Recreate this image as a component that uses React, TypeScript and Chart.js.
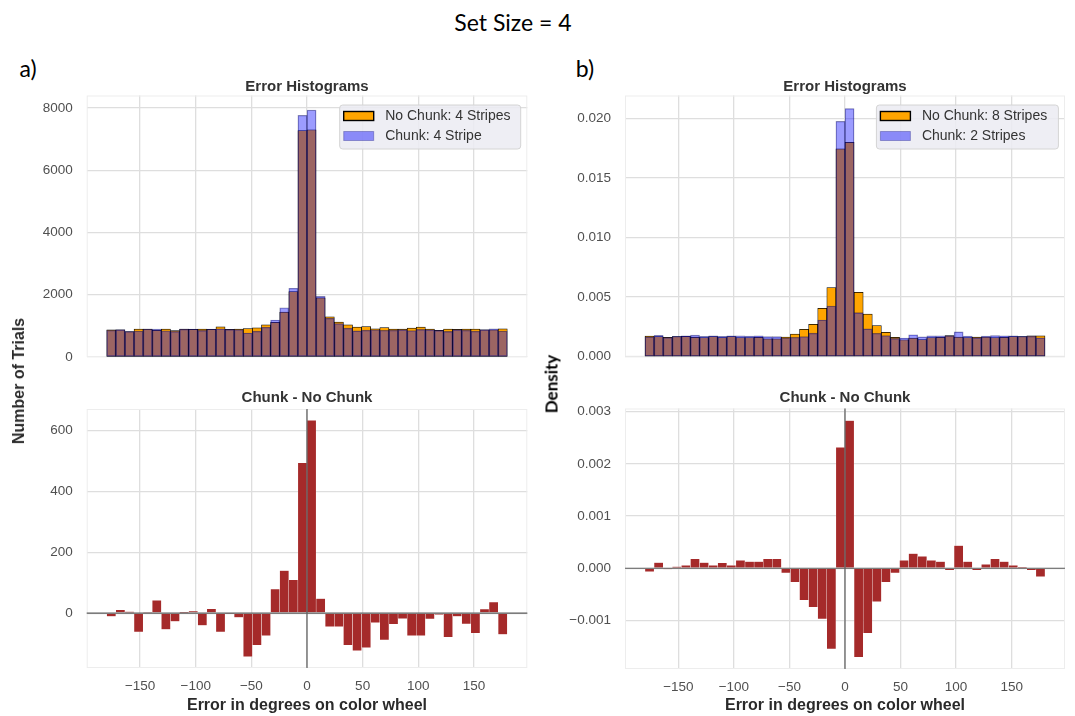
import React, { useEffect, useRef } from 'react';
import { Chart, registerables } from 'chart.js';

Chart.register(...registerables);
Chart.defaults.font.family = '"Liberation Sans", Arial, Helvetica, sans-serif';

// ---------------- data ----------------
const binCenters = [
  -175.91, -167.73, -159.55, -151.36, -143.18, -135.0, -126.82, -118.64, -110.45, -102.27, -94.09,
  -85.91, -77.73, -69.55, -61.36, -53.18, -45.0, -36.82, -28.64, -20.45, -12.27, -4.09,
  4.09, 12.27, 20.45, 28.64, 36.82, 45.0, 53.18, 61.36, 69.55, 77.73, 85.91,
  94.09, 102.27, 110.45, 118.64, 126.82, 135.0, 143.18, 151.36, 159.55, 167.73, 175.91,
];

const xTicks = [-150, -100, -50, 0, 50, 100, 150];

const noChunkA = [870, 870, 815, 895, 895, 855, 895, 850, 895, 890, 895, 885, 970, 890, 895, 915, 935, 1030, 1110, 1440, 2100, 7270, 7300, 1900, 1290, 1120, 1030, 960, 975, 905, 945, 900, 895, 925, 960, 895, 860, 900, 890, 895, 895, 870, 870, 905];
const chunkA = [859, 881, 820, 833, 897, 897, 842, 823, 896, 897, 855, 899, 908, 888, 881, 772, 830, 956, 1189, 1580, 2209, 7763, 7933, 1948, 1246, 1076, 925, 837, 862, 874, 857, 864, 877, 851, 886, 876, 855, 821, 879, 860, 829, 883, 906, 835];
const diffA = [-11, 11, 5, -62, 2, 42, -53, -27, 1, 7, -40, 14, -62, -2, -14, -143, -105, -74, 79, 140, 109, 493, 633, 48, -44, -44, -105, -123, -113, -31, -88, -36, -18, -74, -74, -19, -5, -79, -11, -35, -66, 13, 36, -70];

const noChunkB = [0.00172, 0.00168, 0.00162, 0.00168, 0.0017, 0.00163, 0.0016, 0.00168, 0.0016, 0.00168, 0.0016, 0.0016, 0.00163, 0.0015, 0.0015, 0.00165, 0.0019, 0.0023, 0.00272, 0.00405, 0.0058, 0.01742, 0.01798, 0.0054, 0.00358, 0.0026, 0.00204, 0.00162, 0.00142, 0.00156, 0.00143, 0.0016, 0.00162, 0.00178, 0.00165, 0.0016, 0.00164, 0.00165, 0.0016, 0.00163, 0.00168, 0.00168, 0.00176, 0.00175];
const chunkB = [0.00166, 0.00179, 0.00161, 0.00171, 0.00176, 0.00181, 0.00171, 0.00174, 0.0017, 0.00174, 0.00175, 0.00173, 0.00176, 0.00168, 0.00168, 0.00156, 0.00163, 0.00169, 0.00197, 0.00308, 0.00425, 0.01974, 0.02081, 0.00369, 0.00233, 0.00196, 0.00177, 0.00153, 0.00157, 0.00184, 0.00166, 0.00175, 0.00175, 0.00174, 0.00208, 0.00173, 0.0016, 0.00173, 0.00178, 0.00176, 0.00174, 0.00171, 0.00172, 0.00159];
const diffB = [-0.000064, 0.000109, -0.00001, 0.00003, 0.000057, 0.000179, 0.000109, 0.000057, 0.000102, 0.000057, 0.000153, 0.000128, 0.000128, 0.000179, 0.000179, -0.000089, -0.000268, -0.000613, -0.000747, -0.000971, -0.001545, 0.002318, 0.002829, -0.001705, -0.001245, -0.000639, -0.000268, -0.000089, 0.000153, 0.000281, 0.00023, 0.000153, 0.000128, -0.000038, 0.000434, 0.000128, -0.000038, 0.000077, 0.000179, 0.000128, 0.000057, 0.000026, -0.000038, -0.00016];

const yTicksAtop = [0, 2000, 4000, 6000, 8000];
const yTicksAbot = [0, 200, 400, 600];
const yTicksBtop = [0, 0.005, 0.01, 0.015, 0.02];
const yTicksBbot = [-0.001, 0, 0.001, 0.002, 0.003];

const legendA = ['No Chunk: 4 Stripes', 'Chunk: 4 Stripe'];
const legendB = ['No Chunk: 8 Stripes', 'Chunk: 2 Stripes'];

// ---------------- styling ----------------
const GRID = '#dedede';
const TICK = '#505050';
const ORANGE = '#ffa500';
const BLUE = 'rgba(0,0,255,0.39)';
const BROWN = '#a52a2a';

const minus = (s: string) => s.replace('-', '\u2212');
const fmtInt = (v: any) => minus(String(Math.round(Number(v))));
const fmt3 = (v: any) => minus(Number(v).toFixed(3));

const pts = (vals: number[]) => vals.map((y, i) => ({ x: binCenters[i], y }));

// ---------------- plugins ----------------
const framePlugin = {
  id: 'frame',
  beforeDatasetsDraw(chart: any) {
    const { ctx, chartArea: a } = chart;
    ctx.save();
    ctx.strokeStyle = '#ededed';
    ctx.lineWidth = 1;
    ctx.strokeRect(a.left + 0.5, a.top + 0.5, a.right - a.left - 1, a.bottom - a.top - 1);
    ctx.restore();
  },
};

const zeroPlugin = {
  id: 'zeroLines',
  afterDatasetsDraw(chart: any, _args: any, opts: any) {
    if (!opts || !opts.enabled) return;
    const { ctx, chartArea: a, scales } = chart;
    const x0 = scales.x.getPixelForValue(0);
    const y0 = scales.y.getPixelForValue(0);
    ctx.save();
    ctx.strokeStyle = '#5c5c5c';
    ctx.lineWidth = 1.2;
    ctx.beginPath();
    ctx.moveTo(a.left, y0);
    ctx.lineTo(a.right, y0);
    ctx.moveTo(x0, a.top);
    ctx.lineTo(x0, a.bottom);
    ctx.stroke();
    ctx.restore();
  },
};

const legendPlugin = {
  id: 'insideLegend',
  afterDraw(chart: any, _args: any, opts: any) {
    if (!opts || !opts.items) return;
    const { ctx, chartArea: a } = chart;
    const w = opts.width;
    const h = 44;
    const x = a.right - 6.6 - w;
    const y = a.top + 9.5;
    const r = 3;
    ctx.save();
    ctx.beginPath();
    ctx.moveTo(x + r, y);
    ctx.lineTo(x + w - r, y);
    ctx.quadraticCurveTo(x + w, y, x + w, y + r);
    ctx.lineTo(x + w, y + h - r);
    ctx.quadraticCurveTo(x + w, y + h, x + w - r, y + h);
    ctx.lineTo(x + r, y + h);
    ctx.quadraticCurveTo(x, y + h, x, y + h - r);
    ctx.lineTo(x, y + r);
    ctx.quadraticCurveTo(x, y, x + r, y);
    ctx.closePath();
    ctx.fillStyle = 'rgba(236,236,242,0.88)';
    ctx.fill();
    ctx.strokeStyle = '#d4d4d4';
    ctx.lineWidth = 1;
    ctx.stroke();
    opts.items.forEach((it: any, i: number) => {
      const cy = y + 11 + i * 20;
      ctx.fillStyle = it.fill;
      ctx.fillRect(x + 4, cy - 4.5, 30, 9);
      ctx.strokeStyle = it.stroke;
      ctx.lineWidth = it.lw;
      ctx.strokeRect(x + 4, cy - 4.5, 30, 9);
      ctx.fillStyle = '#333333';
      ctx.font = '14px "Liberation Sans", Arial, sans-serif';
      ctx.textBaseline = 'middle';
      ctx.textAlign = 'left';
      ctx.fillText(it.text, x + 45.5, cy + 0.5);
    });
    ctx.restore();
  },
};

// ---------------- panel ----------------
type PanelProps = {
  left: number;
  top: number;
  width: number;
  height: number;
  yWidth: number;
  padTop: number;
  padRight: number;
  padBottom: number;
  xHeight: number;
  showX: boolean;
  yMin: number;
  yMax: number;
  yTicks: number[];
  fmt: (v: any) => string;
  datasets: any[];
  legend?: any;
  zero?: boolean;
};

function Panel(p: PanelProps) {
  const ref = useRef<HTMLCanvasElement | null>(null);
  useEffect(() => {
    if (!ref.current) return;
    const chart = new Chart(ref.current, {
      type: 'bar',
      data: { datasets: p.datasets },
      options: {
        animation: false,
        responsive: false,
        maintainAspectRatio: false,
        devicePixelRatio: 1,
        layout: { padding: { left: 0, top: p.padTop, right: p.padRight, bottom: p.padBottom } },
        datasets: { bar: { grouped: false, barPercentage: 1, categoryPercentage: 1 } } as any,
        plugins: {
          legend: { display: false },
          tooltip: { enabled: false },
          title: { display: false },
          insideLegend: p.legend || {},
          zeroLines: { enabled: !!p.zero },
        } as any,
        scales: {
          x: {
            type: 'linear',
            min: -198,
            max: 198,
            offset: false,
            grid: { color: GRID, lineWidth: 1.3, drawTicks: false, offset: false },
            border: { display: false },
            ticks: {
              display: p.showX,
              padding: 10,
              color: TICK,
              font: { size: 13.5 },
              maxRotation: 0,
              callback: fmtInt,
            },
            afterBuildTicks: (s: any) => {
              s.ticks = xTicks.map((v) => ({ value: v }));
            },
            afterFit: (s: any) => {
              s.height = p.xHeight;
              s.paddingLeft = 0;
              s.paddingRight = 0;
            },
          },
          y: {
            type: 'linear',
            min: p.yMin,
            max: p.yMax,
            grid: { color: GRID, lineWidth: 1.3, drawTicks: false },
            border: { display: false },
            ticks: { padding: 14, color: TICK, font: { size: 13.5 }, callback: p.fmt },
            afterBuildTicks: (s: any) => {
              s.ticks = p.yTicks.map((v) => ({ value: v }));
            },
            afterFit: (s: any) => {
              s.width = p.yWidth;
              s.paddingTop = 0;
              s.paddingBottom = 0;
            },
          },
        } as any,
      },
      plugins: [framePlugin, zeroPlugin, legendPlugin],
    } as any);
    return () => chart.destroy();
  }, []);
  return (
    <canvas
      ref={ref}
      width={p.width}
      height={p.height}
      style={{ position: 'absolute', left: p.left, top: p.top, width: p.width, height: p.height }}
    />
  );
}

const histSets = (noChunk: number[], chunk: number[], labels: string[]) => [
  {
    label: labels[1],
    data: pts(chunk),
    backgroundColor: BLUE,
    borderColor: 'rgba(0,0,70,0.45)',
    borderWidth: 0.7,
    borderSkipped: false,
    order: 1,
  },
  {
    label: labels[0],
    data: pts(noChunk),
    backgroundColor: ORANGE,
    borderColor: '#000000',
    borderWidth: 0.75,
    borderSkipped: false,
    order: 2,
  },
];

const diffSets = (diff: number[]) => [
  {
    label: 'Chunk - No Chunk',
    data: pts(diff),
    backgroundColor: BROWN,
    borderColor: 'rgba(255,255,255,0.45)',
    borderWidth: 0.5,
    borderSkipped: false,
  },
];

const legendItems = (labels: string[]) => [
  { text: labels[0], fill: ORANGE, stroke: '#000', lw: 1.4 },
  { text: labels[1], fill: 'rgba(0,0,255,0.42)', stroke: 'rgba(0,0,110,0.3)', lw: 1 },
];

type TextProps = { x: number; y: number; text: string; style?: React.CSSProperties; rotate?: boolean };
function Label({ x, y, text, style, rotate }: TextProps) {
  return (
    <div
      style={{
        position: 'absolute',
        left: x,
        top: y,
        transform: `translate(-50%, -50%)${rotate ? ' rotate(-90deg)' : ''}`,
        whiteSpace: 'nowrap',
        lineHeight: 1,
        ...style,
      }}
    >
      {text}
    </div>
  );
}

const titleStyle: React.CSSProperties = {
  fontFamily: '"Liberation Sans", Arial, sans-serif',
  fontWeight: 'bold',
  fontSize: 15,
  color: '#333333',
};
const axisStyle: React.CSSProperties = {
  fontFamily: '"Liberation Sans", Arial, sans-serif',
  fontWeight: 'bold',
  fontSize: 16,
  color: '#2a2a2a',
};
const bigStyle: React.CSSProperties = {
  fontFamily: 'Lato, "Open Sans", sans-serif',
  fontSize: 23,
  color: '#000',
};

export default function App() {
  return (
    <div
      style={{
        position: 'absolute',
        left: 0,
        top: 0,
        width: 1075,
        height: 716,
        background: '#ffffff',
        overflow: 'hidden',
      }}
    >
      <Panel
        left={0}
        top={88}
        width={540}
        height={274}
        yWidth={86.7}
        padTop={7.5}
        padRight={12.7}
        padBottom={5}
        xHeight={0}
        showX={false}
        yMin={0}
        yMax={8400}
        yTicks={yTicksAtop}
        fmt={fmtInt}
        datasets={histSets(noChunkA, chunkA, legendA)}
        legend={{ width: 181, items: legendItems(legendA) }}
      />
      <Panel
        left={0}
        top={400}
        width={540}
        height={316}
        yWidth={86.7}
        padTop={9}
        padRight={12.7}
        padBottom={0}
        xHeight={48}
        showX={true}
        yMin={-180}
        yMax={670}
        yTicks={yTicksAbot}
        fmt={fmtInt}
        datasets={diffSets(diffA)}
        zero={true}
      />
      <Panel
        left={540}
        top={88}
        width={535}
        height={274}
        yWidth={85}
        padTop={7.5}
        padRight={10}
        padBottom={5.3}
        xHeight={0}
        showX={false}
        yMin={0}
        yMax={0.0219}
        yTicks={yTicksBtop}
        fmt={fmt3}
        datasets={histSets(noChunkB, chunkB, legendB)}
        legend={{ width: 182, items: legendItems(legendB) }}
      />
      <Panel
        left={540}
        top={400}
        width={535}
        height={316}
        yWidth={85}
        padTop={8.5}
        padRight={10}
        padBottom={0}
        xHeight={47}
        showX={true}
        yMin={-0.00193}
        yMax={0.00306}
        yTicks={yTicksBbot}
        fmt={fmt3}
        datasets={diffSets(diffB)}
        zero={true}
      />

      <Label x={513} y={22} text="Set Size = 4" style={bigStyle} />
      <Label x={28} y={68} text="a)" style={bigStyle} />
      <Label x={585} y={68} text="b)" style={bigStyle} />

      <Label x={307} y={85} text="Error Histograms" style={titleStyle} />
      <Label x={845} y={85} text="Error Histograms" style={titleStyle} />
      <Label x={307} y={396} text="Chunk - No Chunk" style={titleStyle} />
      <Label x={845} y={396} text="Chunk - No Chunk" style={titleStyle} />

      <Label x={307} y={705} text="Error in degrees on color wheel" style={axisStyle} />
      <Label x={845} y={705} text="Error in degrees on color wheel" style={axisStyle} />

      <Label x={19} y={381} text="Number of Trials" style={axisStyle} rotate />
      <Label
        x={551}
        y={384}
        text="Density"
        rotate
        style={{ fontFamily: 'Lato, "Open Sans", sans-serif', fontWeight: 'bold', fontSize: 17, color: '#000' }}
      />
    </div>
  );
}
